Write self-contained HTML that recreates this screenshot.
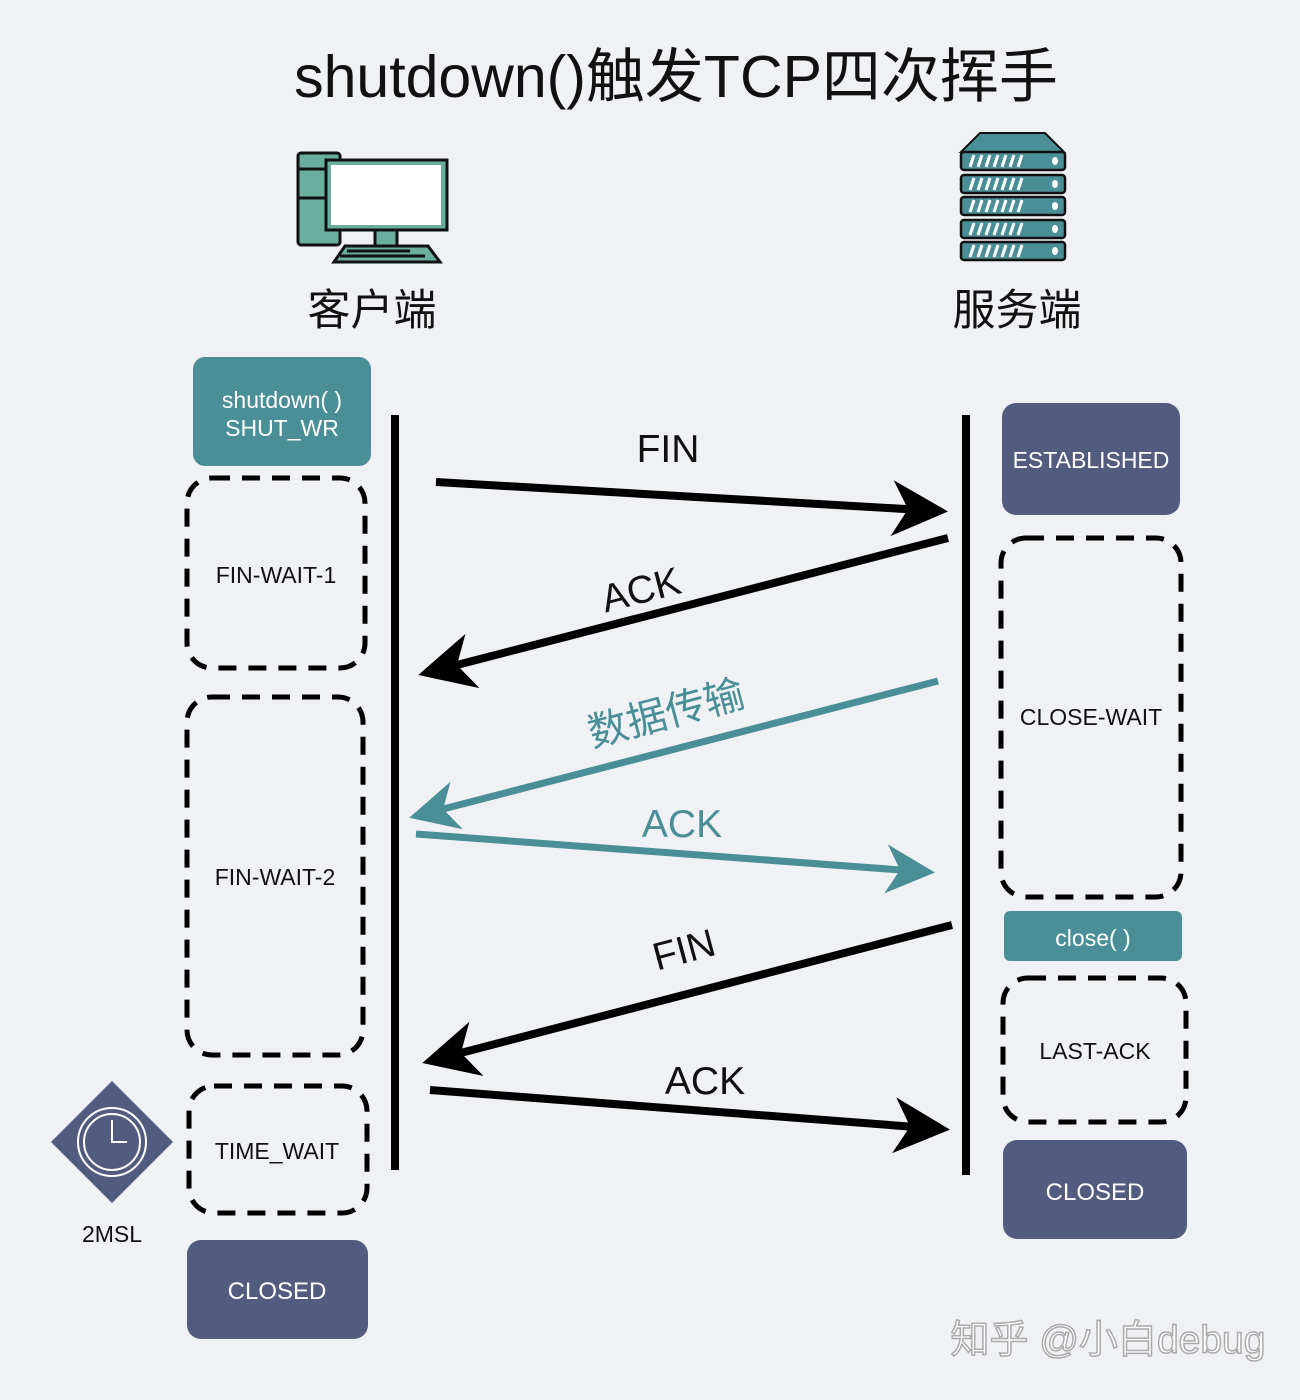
<!DOCTYPE html>
<html><head><meta charset="utf-8"><style>body{margin:0;background:#eff1f4}svg{display:block}</style></head><body>
<svg width="1300" height="1400" xmlns="http://www.w3.org/2000/svg" font-family="Liberation Sans, Noto Sans CJK SC, sans-serif">
<defs>
<marker id="ab" markerWidth="8" markerHeight="8" refX="6" refY="4" orient="auto" markerUnits="strokeWidth"><path d="M0,0.5 L7,4 L0,7.5 L2,4z" fill="#000"/></marker>
<marker id="at" markerWidth="8" markerHeight="8" refX="6" refY="4" orient="auto" markerUnits="strokeWidth"><path d="M0,0.5 L7,4 L0,7.5 L2,4z" fill="#4a8f97"/></marker>
</defs>
<rect width="1300" height="1400" fill="#eff1f4"/>
<text x="676" y="97" font-size="59" text-anchor="middle" fill="#111">shutdown()触发TCP四次挥手</text>
<!-- computer -->
<g stroke="#111" stroke-width="3">
<rect x="298" y="153" width="42" height="92" rx="3" fill="#6aae9e"/>
<line x1="298" y1="169" x2="330" y2="169"/><line x1="298" y1="198" x2="330" y2="198"/>
<rect x="375" y="228" width="22" height="18" fill="#6aae9e"/>
<rect x="326" y="160" width="121" height="70" fill="#6aae9e"/>
<rect x="331" y="165" width="110" height="60" fill="#fff" stroke="none"/>
<path d="M345,246 L428,246 L440,262 L334,262z" fill="#6aae9e"/>
</g>
<line x1="347" y1="251" x2="410" y2="251" stroke="#111" stroke-width="3"/>
<line x1="340" y1="256" x2="425" y2="256" stroke="#111" stroke-width="3"/>
<!-- server -->
<path d="M980,133 L1045,133 L1064,152 L961,152z" fill="#4a8f97" stroke="#111" stroke-width="2"/>
<g fill="#4a8f97" stroke="#111" stroke-width="2.5">
<rect x="961" y="152" width="104" height="18" rx="3"/><rect x="961" y="175" width="104" height="18" rx="3"/><rect x="961" y="197" width="104" height="18" rx="3"/><rect x="961" y="220" width="104" height="18" rx="3"/><rect x="961" y="242" width="104" height="18" rx="3"/>
</g>
<g stroke="#fff" stroke-width="3">
<path d="M970,167l4,-12M978,167l4,-12M986,167l4,-12M994,167l4,-12M1002,167l4,-12M1010,167l4,-12M1018,167l4,-12"/>
<path d="M970,190l4,-12M978,190l4,-12M986,190l4,-12M994,190l4,-12M1002,190l4,-12M1010,190l4,-12M1018,190l4,-12"/>
<path d="M970,212l4,-12M978,212l4,-12M986,212l4,-12M994,212l4,-12M1002,212l4,-12M1010,212l4,-12M1018,212l4,-12"/>
<path d="M970,235l4,-12M978,235l4,-12M986,235l4,-12M994,235l4,-12M1002,235l4,-12M1010,235l4,-12M1018,235l4,-12"/>
<path d="M970,257l4,-12M978,257l4,-12M986,257l4,-12M994,257l4,-12M1002,257l4,-12M1010,257l4,-12M1018,257l4,-12"/>
</g>
<g fill="#fff"><ellipse cx="1055" cy="161" rx="3" ry="4"/><ellipse cx="1055" cy="184" rx="3" ry="4"/><ellipse cx="1055" cy="206" rx="3" ry="4"/><ellipse cx="1055" cy="229" rx="3" ry="4"/><ellipse cx="1055" cy="251" rx="3" ry="4"/></g>
<text x="372" y="325" font-size="43" text-anchor="middle" fill="#111">客户端</text>
<text x="1017" y="325" font-size="43" text-anchor="middle" fill="#111">服务端</text>
<!-- lifelines -->
<line x1="395" y1="415" x2="395" y2="1170" stroke="#000" stroke-width="8"/>
<line x1="966" y1="415" x2="966" y2="1175" stroke="#000" stroke-width="8"/>
<!-- left boxes -->
<rect x="193" y="357" width="178" height="109" rx="12" fill="#4a8f97"/>
<text x="282" y="408" font-size="23" fill="#fff" text-anchor="middle">shutdown( )</text>
<text x="282" y="436" font-size="23" fill="#fff" text-anchor="middle">SHUT_WR</text>
<g fill="none" stroke="#000" stroke-width="5" stroke-dasharray="18 12">
<rect x="187" y="478" width="178" height="190" rx="25"/>
<rect x="187" y="697" width="176" height="358" rx="25"/>
<rect x="189" y="1086" width="178" height="127" rx="25"/>
<rect x="1001" y="538" width="180" height="359" rx="25"/>
<rect x="1003" y="978" width="183" height="144" rx="25"/>
</g>
<g font-size="23" fill="#111" text-anchor="middle">
<text x="276" y="583">FIN-WAIT-1</text>
<text x="275" y="885">FIN-WAIT-2</text>
<text x="277" y="1159">TIME_WAIT</text>
<text x="1091" y="725">CLOSE-WAIT</text>
<text x="1095" y="1059">LAST-ACK</text>
<text x="112" y="1242">2MSL</text>
</g>
<rect x="187" y="1240" width="181" height="99" rx="14" fill="#525c7e"/>
<text x="277" y="1299" font-size="24" fill="#fff" text-anchor="middle">CLOSED</text>
<rect x="1002" y="403" width="178" height="112" rx="14" fill="#525c7e"/>
<text x="1091" y="468" font-size="23" fill="#fff" text-anchor="middle">ESTABLISHED</text>
<rect x="1004" y="911" width="178" height="50" rx="6" fill="#4a8f97"/>
<text x="1093" y="946" font-size="23" fill="#fff" text-anchor="middle">close( )</text>
<rect x="1003" y="1140" width="184" height="99" rx="14" fill="#525c7e"/>
<text x="1095" y="1200" font-size="24" fill="#fff" text-anchor="middle">CLOSED</text>
<!-- clock -->
<path d="M112,1081 L173,1142 L112,1203 L51,1142z" fill="#525c7e"/>
<circle cx="112" cy="1142" r="34" fill="none" stroke="#fff" stroke-width="2"/>
<circle cx="112" cy="1142" r="28" fill="none" stroke="#fff" stroke-width="2"/>
<path d="M112,1120 L112,1142 L127,1142" fill="none" stroke="#fff" stroke-width="2"/>
<!-- arrows -->
<line x1="436" y1="482" x2="940" y2="511" stroke="#000" stroke-width="8" marker-end="url(#ab)"/>
<line x1="948" y1="538" x2="426" y2="673" stroke="#000" stroke-width="8" marker-end="url(#ab)"/>
<line x1="938" y1="681" x2="416" y2="816" stroke="#4a8f97" stroke-width="7" marker-end="url(#at)"/>
<line x1="416" y1="834" x2="928" y2="872" stroke="#4a8f97" stroke-width="7" marker-end="url(#at)"/>
<line x1="952" y1="925" x2="430" y2="1061" stroke="#000" stroke-width="8" marker-end="url(#ab)"/>
<line x1="430" y1="1090" x2="942" y2="1129" stroke="#000" stroke-width="8" marker-end="url(#ab)"/>
<text x="668" y="462" font-size="39" text-anchor="middle" fill="#111">FIN</text>
<text x="641" y="603" font-size="39" text-anchor="middle" fill="#111" transform="rotate(-14.5 641 590)">ACK</text>
<text x="666" y="727" font-size="40" text-anchor="middle" fill="#4a8f97" transform="rotate(-15 666 713)">数据传输</text>
<text x="682" y="837" font-size="39" text-anchor="middle" fill="#4a8f97">ACK</text>
<text x="684" y="963" font-size="39" text-anchor="middle" fill="#111" transform="rotate(-15 684 950)">FIN</text>
<text x="705" y="1094" font-size="39" text-anchor="middle" fill="#111">ACK</text>
<text x="1108" y="1353" font-size="39" text-anchor="middle" fill="#fff" stroke="#aaa" stroke-width="1.5">知乎 @小白debug</text>
</svg>
</body></html>
